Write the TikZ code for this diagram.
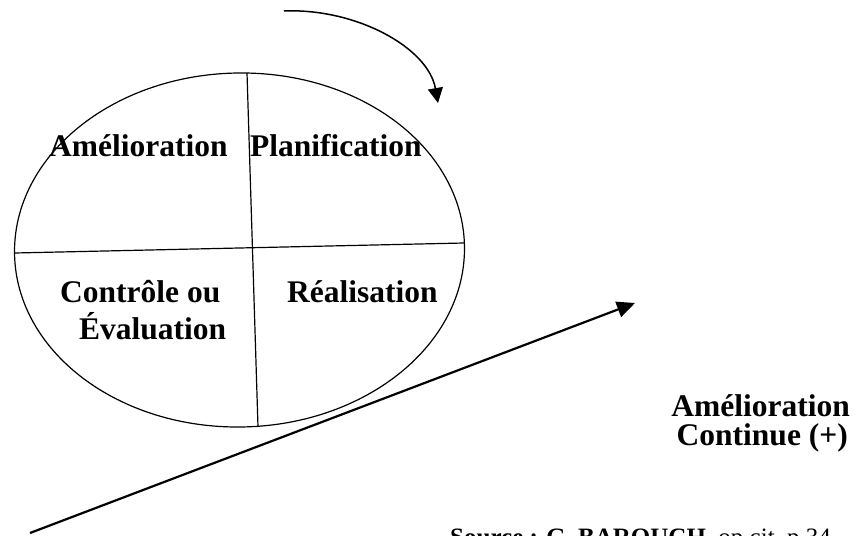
\documentclass[tikz,border=0pt]{standalone}
\usepackage{fontspec}
\setmainfont{Liberation Serif}
\usetikzlibrary{arrows.meta}
\begin{document}
\begin{tikzpicture}[x=1pt,y=1pt,
  lbl/.style={font=\fontsize{31.5}{37}\selectfont\bfseries, inner sep=0pt, anchor=base west},
  thin line/.style={line width=1.2pt},
  ]
\useasboundingbox (0,0) rectangle (866,535);
\clip (0,0) rectangle (866,535);
% ellipse
\draw[thin line, rotate around={1:(239.5,285)}] (239.5,285) ellipse [x radius=225, y radius=177];
\coordinate (vt) at (247,462);
\coordinate (vb) at (258,108);
\coordinate (hl) at (15,282);
\coordinate (hr) at (464,292);
\draw[thin line] (vt) -- (vb);
\draw[thin line] (hl) -- (hr);
% labels
\node[lbl] (amel) at (49,378) {Amélioration};
\node[lbl] (plan) at (250,378) {Planification};
\node[lbl] (ctrl) at (60,232) {Contrôle ou};
\node[lbl] (eval) at (79,195) {Évaluation};
\node[lbl] (real) at (287,232) {Réalisation};
\node[lbl, anchor=base east] (ac1) at (850,118) {Amélioration};
\node[lbl, anchor=base east] (ac2) at (848,89) {Continue (+)};
% curved arrow
\coordinate (cs) at (284,524);
\coordinate (ce) at (438,432);
\draw[line width=1.5pt, -{Triangle[length=15pt,width=15pt]}] (cs) .. controls (355,527) and (428,488) .. (ce);
% straight arrow
\coordinate (ss) at (30,2);
\coordinate (se) at (635,232);
\draw[line width=2.2pt, -{Triangle[length=18pt,width=16pt]}] (ss) -- (se);
% source line (cut at the bottom)
\node[inner sep=0pt, anchor=base west, font=\fontsize{25}{30}\selectfont] (src) at (450,-10) {\textbf{Source : G. BAROUCH,} op.cit, p.34};
\end{tikzpicture}
\end{document}
